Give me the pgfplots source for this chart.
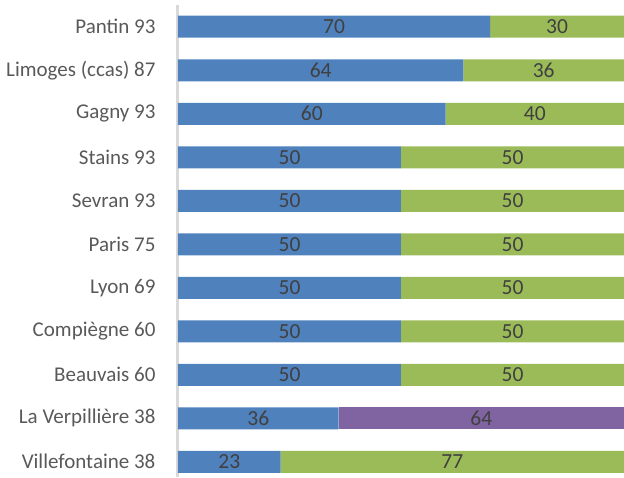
\documentclass[border=0pt]{standalone}
\usepackage{pgfplots}
\pgfplotsset{compat=1.18}
\usepackage{fontspec}
\setmainfont{Carlito}
\definecolor{cblue}{HTML}{4F81BD}
\definecolor{cgreen}{HTML}{9BBB59}
\definecolor{cpurple}{HTML}{8064A2}
\definecolor{numcol}{HTML}{404040}
\definecolor{tickcol}{HTML}{595959}
\definecolor{axcol}{HTML}{D9D9D9}
\begin{document}
\begin{tikzpicture}
\begin{axis}[
  scale only axis, width=446pt, height=472pt,
  xmin=0, xmax=100, ymin=-0.35, ymax=10.5,
  xbar stacked, bar width=22pt,
  axis x line=none,
  axis y line=left,
  axis line style={-, draw=axcol, line width=3pt},
  xtick=\empty,
  ytick={0,...,10},
  yticklabels={Villefontaine 38, La Verpillière 38, Beauvais 60, Compiègne 60, Lyon 69, Paris 75, Sevran 93, Stains 93, Gagny 93, Limoges (ccas) 87, Pantin 93},
  major tick length=0pt,
  yticklabel style={font=\fontsize{21}{25}\selectfont, text=tickcol, xshift=-19pt},
  /pgf/number format/assume math mode=true,
  nodes near coords={\pgfmathfloatifflags{\pgfplotspointmeta}{0}{}{\pgfmathprintnumber{\pgfplotspointmeta}}},
  point meta=explicit,
  every node near coord/.append style={font=\fontsize{21.5}{25}\selectfont, text=numcol, anchor=center},
]
\addplot[fill=cblue, draw=none] table[x=v, y=c, meta=v] {
c v
0 23
1 36
2 50
3 50
4 50
5 50
6 50
7 50
8 60
9 64
10 70
};
\addplot[fill=cgreen, draw=none] table[x=v, y=c, meta=v] {
c v
0 77
1 0
2 50
3 50
4 50
5 50
6 50
7 50
8 40
9 36
10 30
};
\addplot[fill=cpurple, draw=none] table[x=v, y=c, meta=v] {
c v
0 0
1 64
2 0
3 0
4 0
5 0
6 0
7 0
8 0
9 0
10 0
};
\end{axis}
\pgfresetboundingbox
\path ([xshift=-178pt]current axis.south west) rectangle ([yshift=5pt]current axis.north east);
\end{tikzpicture}
\end{document}
